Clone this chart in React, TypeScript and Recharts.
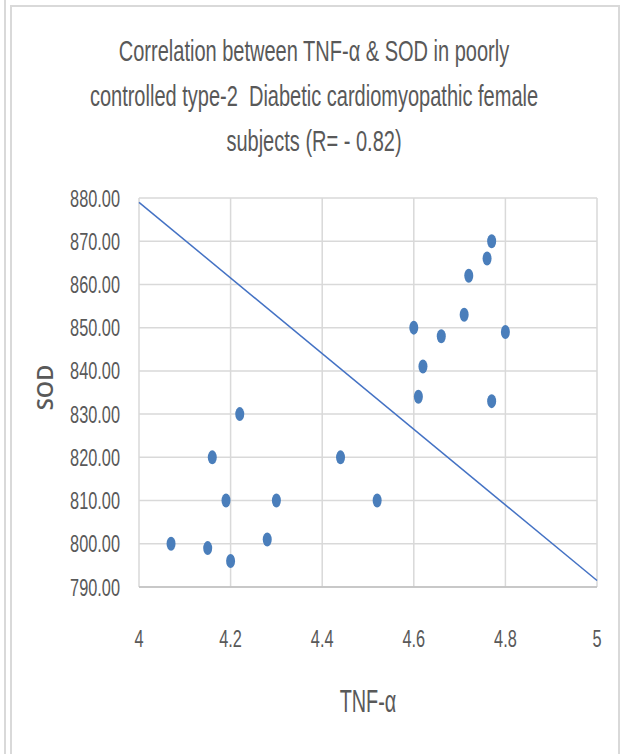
import { CartesianGrid, Scatter, ScatterChart, XAxis, YAxis } from "recharts";

// TNF-α vs SOD readings
const tnfValues = [4.07, 4.15, 4.2, 4.19, 4.3, 4.28, 4.16, 4.22, 4.44, 4.52, 4.77, 4.76, 4.72, 4.71, 4.6, 4.66, 4.8, 4.62, 4.61, 4.77];
const sodValues = [800, 799, 796, 810, 810, 801, 820, 830, 820, 810, 870, 866, 862, 853, 850, 848, 849, 841, 834, 833];

// trend line end points as drawn in the figure
const trendX = [4, 5];
const trendY = [879, 791.5];

const xTicks = [4, 4.2, 4.4, 4.6, 4.8, 5];
const yTicks = [790, 800, 810, 820, 830, 840, 850, 860, 870, 880];

const titleLines = [
  "Correlation between TNF-\u03b1 & SOD in poorly",
  "controlled type-2  Diabetic cardiomyopathic female",
  "subjects (R= - 0.82)",
];

const points = tnfValues.map((x, i) => ({ x, y: sodValues[i] }));
const trend = trendX.map((x, i) => ({ x, y: trendY[i] }));

const FONT = "'Liberation Sans', Arial, sans-serif";
const TEXT = "#595959";
const GRID = "#d9d9d9";
const SQUEEZE = 0.68; // the original text is tall and narrow

function Dot(props: { cx?: number; cy?: number }) {
  if (props.cx == null || props.cy == null) return <g />;
  return <ellipse cx={props.cx} cy={props.cy} rx={4.5} ry={7} fill="#4a7ebb" />;
}

function XTick(props: any) {
  const { x, y, payload } = props;
  return (
    <text
      transform={`translate(${x},${y + 17}) scale(${SQUEEZE},1)`}
      textAnchor="middle"
      fill={TEXT}
      fontSize={24}
      fontFamily={FONT}
    >
      {String(payload.value)}
    </text>
  );
}

function YTick(props: any) {
  const { x, y, payload } = props;
  return (
    <text
      transform={`translate(${x},${y + 8.5}) scale(${SQUEEZE},1)`}
      textAnchor="end"
      fill={TEXT}
      fontSize={24}
      fontFamily={FONT}
    >
      {Number(payload.value).toFixed(2)}
    </text>
  );
}

function XLabel(props: any) {
  const vb = props.viewBox || {};
  const cx = vb.x + vb.width / 2;
  return (
    <text
      transform={`translate(${cx},712) scale(0.64,1)`}
      textAnchor="middle"
      fill={TEXT}
      fontSize={31}
      fontFamily={FONT}
    >
      TNF-{"\u03b1"}
    </text>
  );
}

function YLabel(props: any) {
  const vb = props.viewBox || {};
  const cy = vb.y + vb.height / 2 - 5;
  return (
    <text
      transform={`translate(53,${cy}) rotate(-90)`}
      textAnchor="middle"
      fill={TEXT}
      fontSize={22}
      fontWeight={600}
      fontFamily="'Open Sans', 'DejaVu Sans', sans-serif"
    >
      SOD
    </text>
  );
}

export default function App() {
  return (
    <div style={{ position: "absolute", left: 0, top: 0, width: 621, height: 754, background: "#fff", overflow: "hidden" }}>
      {/* frame borders */}
      <div style={{ position: "absolute", left: 4, top: 0, width: 2, height: 754, background: GRID }} />
      <div style={{ position: "absolute", left: 10, top: 5, width: 606, height: 760, border: `2px solid ${GRID}` }} />

      <div
        style={{
          position: "absolute",
          left: 314 - 450,
          top: 29,
          width: 900,
          textAlign: "center",
          fontFamily: FONT,
          fontSize: 29,
          lineHeight: "45px",
          color: TEXT,
          whiteSpace: "pre",
          transform: "scale(0.69,1)",
          transformOrigin: "450px 0",
        }}
      >
        {titleLines.map((t, i) => (
          <div key={i}>{t}</div>
        ))}
      </div>

      <div style={{ position: "absolute", left: 0, top: 0 }}>
        <ScatterChart width={621} height={754} margin={{ top: 198, right: 24, bottom: 37, left: 0 }}>
          <CartesianGrid stroke={GRID} strokeWidth={1.5} />
          <XAxis
            type="number"
            dataKey="x"
            domain={[4, 5]}
            ticks={xTicks}
            tickSize={0}
            tickMargin={43}
            height={130}
            stroke="#bfbfbf"
            strokeWidth={1.5}
            tick={<XTick />}
            label={<XLabel />}
          />
          <YAxis
            type="number"
            dataKey="y"
            domain={[790, 880]}
            ticks={yTicks}
            width={139}
            axisLine={false}
            tickSize={0}
            tickMargin={19}
            tick={<YTick />}
            label={<YLabel />}
          />
          <Scatter
            data={trend}
            line={{ stroke: "#4472c4", strokeWidth: 1.5 }}
            lineType="joint"
            shape={() => <g />}
            isAnimationActive={false}
          />
          <Scatter data={points} shape={<Dot />} isAnimationActive={false} />
        </ScatterChart>
      </div>
    </div>
  );
}
